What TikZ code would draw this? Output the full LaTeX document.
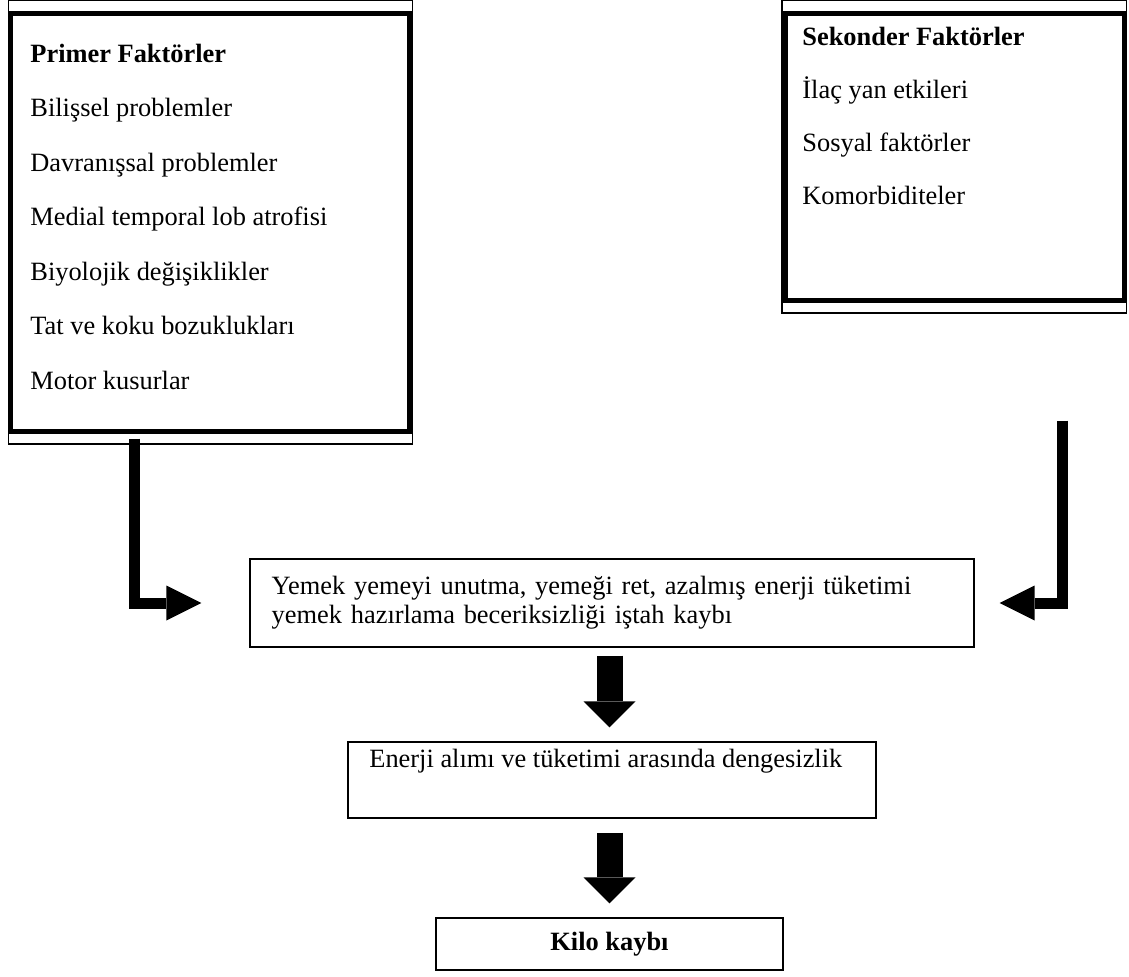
\documentclass[tikz,border=0pt]{standalone}
\usepackage{fontspec}
\setmainfont{Liberation Serif}
\usetikzlibrary{
  arrows.meta,
  calc,
  positioning
}

\begin{document}
\begin{tikzpicture}[
  x=0.5pt, y=-0.5pt,
  every node/.style={font=\fontsize{13.2}{16}\selectfont},
  frame/.style={draw, line width=0.6pt, inner sep=0pt},
  factor/.style={draw, line width=2.5pt, inner sep=0pt},
  item/.style={anchor=base west, inner sep=0pt},
  box/.style={draw, line width=0.7pt, inner sep=0pt},
  downarr/.style={-{Triangle[length=13pt, width=26pt, line width=0pt]}, line width=13pt},
  bendarr/.style={-{Triangle[length=17.5pt, width=17.5pt, line width=0pt]}, line width=5.5pt}
]
\useasboundingbox (0,0) rectangle (1129,976);

% Primer faktorler
\node[frame, minimum width=202pt, minimum height=221.75pt] at (210.5,222.25) (primerframe) {};
\node[factor, minimum width=199.35pt, minimum height=208.75pt] at (210.15,222.25) (primer) {};
\node[item] at (30,62) (primerhead) {\textbf{Primer Faktörler}};
\foreach \t [count=\i] in {Bilişsel problemler, Davranışsal problemler,
    Medial temporal lob atrofisi, Biyolojik değişiklikler,
    Tat ve koku bozuklukları, Motor kusurlar}
  \node[item] at (30,62+54.5*\i) (primer\i) {\t};

% Sekonder faktorler
\node[frame, minimum width=172.25pt, minimum height=156.25pt] at (954.25,156.75) (sekonderframe) {};
\node[factor, minimum width=169.5pt, minimum height=143.1pt] at (954.5,156.9) (sekonder) {};
\node[item] at (802,45) (sekonderhead) {\textbf{Sekonder Faktörler}};
\foreach \t [count=\i] in {İlaç yan etkileri, Sosyal faktörler, Komorbiditeler}
  \node[item] at (802,45+53*\i) (sekonder\i) {\t};

% Akis
\node[box, minimum width=362pt, minimum height=44pt, text width=340.3pt, inner xsep=10.85pt,
      align=left, font=\fontsize{13.2}{14.5}\selectfont] at (612,603) (yemek)
  {Yemek yemeyi unutma, yemeği ret, azalmış enerji tüketimi\\yemek hazırlama beceriksizliği iştah kaybı};
\node[box, minimum width=264pt, minimum height=38pt] at (612,780) (denge) {};
\node[item] at (369,767) (dengetext) {Enerji alımı ve tüketimi arasında dengesizlik};
\node[box, minimum width=173.5pt, minimum height=26pt] at (609.5,944) (kilo) {\textbf{Kilo kaybı}};

\draw[bendarr, shorten <=-3pt, shorten >=24pt]
  ($(primerframe.south west)!0.312!(primerframe.south east)$) |- (yemek.west);
\draw[bendarr, shorten <=53.5pt, shorten >=12.5pt]
  ($(sekonderframe.south west)!0.814!(sekonderframe.south east)$) |- (yemek.east);
\draw[downarr, shorten <=4pt, shorten >=7pt] (yemek.south -| kilo.north) -- (denge.north -| kilo.north);
\draw[downarr, shorten <=7pt, shorten >=7pt] (denge.south -| kilo.north) -- (kilo.north);

\end{tikzpicture}
\end{document}
